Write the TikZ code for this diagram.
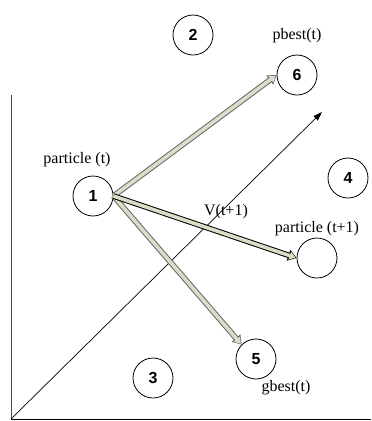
\documentclass[tikz,border=0pt]{standalone}
\usepackage{fontspec}
\setmainfont{Liberation Serif}
\newfontfamily\numfont{Liberation Sans}
\usetikzlibrary{arrows.meta,positioning}

\definecolor{arrowfill}{RGB}{218,222,200}

\begin{document}
\begin{tikzpicture}[
    x=1pt, y=-1pt,
    state/.style={
        circle, draw=black, line width=0.8pt,
        minimum size=40pt, inner sep=0pt,
        font=\numfont\bfseries\fontsize{16}{16}\selectfont
    },
    lbl/.style={font=\fontsize{16}{18}\selectfont, inner sep=0pt},
    axis/.style={line width=0.9pt},
    blockarr/.style={
        draw=arrowfill, line width=3.6pt,
        -{Triangle[length=6pt,width=8pt]}, shorten >=1.2pt,
        preaction={draw=#1, line width=5.6pt,
            -{Triangle[length=8.5pt,width=11pt]}, shorten >=0pt}
    },
    blockarr/.default=black,
]
\useasboundingbox (0,0) rectangle (372,421);

% axes
\coordinate (o) at (11,419);
\coordinate (ytop) at (11,95);
\coordinate (xend) at (371,419);
\coordinate (dtip) at (322,112);
\draw[axis, black!70] (o) -- (ytop);
\draw[axis] (o) -- (xend);
\draw[line width=0.7pt, -{Triangle[length=9pt,width=6pt]}] (o) -- (dtip);

% particles
\foreach \n/\x/\y in {1/93/196, 2/193/35, 3/153/378, 4/348/178, 5/256/359, 6/297/75}
  \node[state] (c\n) at (\x,\y) {\n};
\node[state] (cnext) at (317,258) {};

% labels
\node[lbl] (lpart) at (77,160) {particle (t)};
\node[lbl] (lpbest) at (297,36) {pbest(t)};
\node[lbl] (lnext) at (317,229) {particle (t+1)};
\node[lbl] (lvel) at (226,212) {V(t+1)};
\node[lbl] (lgbest) at (286,388) {gbest(t)};

% moves
\draw[blockarr=black!60] (c1.east) -- (c6.west);
\draw[blockarr=black!60] (c1.east) -- (c5.north west);
\draw[blockarr] (c1.east) -- (cnext.west);

\end{tikzpicture}
\end{document}
